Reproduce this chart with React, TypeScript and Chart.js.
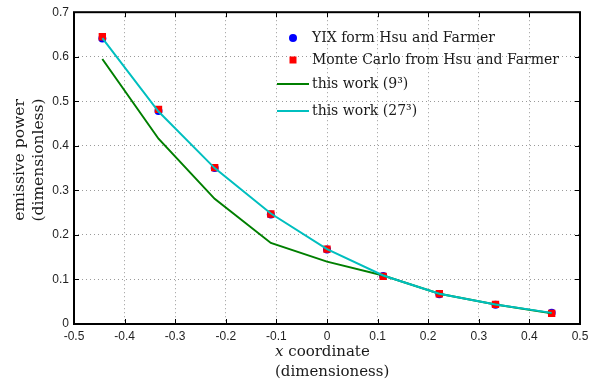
import { useEffect, useRef } from 'react';
import Chart from 'chart.js/auto';

// Cell-centre positions along x (9 cells across [-0.5, 0.5])
const xCoords = [-0.444, -0.333, -0.222, -0.111, 0, 0.111, 0.222, 0.333, 0.444];

// Emissive power along the centre line
const yixValues = [0.641, 0.478, 0.35, 0.246, 0.167, 0.108, 0.067, 0.043, 0.025];
const monteCarloValues = [0.645, 0.482, 0.351, 0.247, 0.168, 0.107, 0.068, 0.044, 0.024];
const coarseValues = [0.595, 0.416, 0.281, 0.182, 0.14, 0.109, 0.068, 0.044, 0.024];
const fineValues = [0.642, 0.477, 0.35, 0.248, 0.168, 0.109, 0.068, 0.044, 0.025];

const seriesLabels = [
  'YIX form Hsu and Farmer',
  'Monte Carlo from Hsu and Farmer',
  'this work (9\u00b3)',
  'this work (27\u00b3)',
];

const xTitle = ['coordinate', '(dimensioness)'];
const yTitle = ['emissive power', '(dimensionless)'];

const X_MIN = -0.5;
const X_MAX = 0.5;
const Y_MIN = 0;
const Y_MAX = 0.7;
const STEP = 0.1;

const SERIF = '"DejaVu Serif", "Liberation Serif", serif';
const SANS = '"Liberation Sans", Arial, sans-serif';

const toPoints = (vals: number[]) => vals.map((v, i) => ({ x: xCoords[i], y: v }));
const fmt = (v: number) => String(Math.round(v * 10) / 10);

const decorPlugin = {
  id: 'decor',
  afterDatasetsDraw(chart: any) {
    const { ctx, chartArea: a, scales } = chart;
    const xs = scales.x;
    const ys = scales.y;
    ctx.save();
    ctx.strokeStyle = '#000';
    ctx.lineWidth = 1;
    ctx.beginPath();
    xs.ticks.forEach((t: any) => {
      const px = Math.round(xs.getPixelForValue(t.value)) + 0.5;
      ctx.moveTo(px, a.bottom);
      ctx.lineTo(px, a.bottom - 5);
      ctx.moveTo(px, a.top);
      ctx.lineTo(px, a.top + 5);
    });
    ys.ticks.forEach((t: any) => {
      const py = Math.round(ys.getPixelForValue(t.value)) + 0.5;
      ctx.moveTo(a.left, py);
      ctx.lineTo(a.left + 5, py);
      ctx.moveTo(a.right, py);
      ctx.lineTo(a.right - 5, py);
    });
    ctx.stroke();
    ctx.lineWidth = 2;
    ctx.strokeRect(a.left, a.top, a.right - a.left, a.bottom - a.top);
    ctx.restore();
  },
  afterDraw(chart: any) {
    const { ctx, chartArea: a } = chart;
    const ds = chart.data.datasets;
    ctx.save();

    // legend inside the plot, no box
    const rows = [38, 60, 84, 111];
    const sampleX = 293;
    const textX = 312;
    ctx.font = `14px ${SERIF}`;
    ctx.textBaseline = 'middle';
    ctx.textAlign = 'left';
    ds.forEach((d: any, i: number) => {
      const y = rows[i];
      if (d.showLine === false) {
        ctx.fillStyle = d.backgroundColor;
        if (d.pointStyle === 'rect') {
          ctx.fillRect(sampleX - 3.5, y - 3.5, 7, 7);
        } else {
          ctx.beginPath();
          ctx.arc(sampleX, y, 4, 0, Math.PI * 2);
          ctx.fill();
        }
      } else {
        ctx.strokeStyle = d.borderColor;
        ctx.lineWidth = 2;
        ctx.beginPath();
        ctx.moveTo(277, y);
        ctx.lineTo(309, y);
        ctx.stroke();
      }
      ctx.fillStyle = '#1a1a1a';
      ctx.fillText(d.label, textX, y);
    });

    // x title: italic x followed by upright text, two lines
    ctx.fillStyle = '#1a1a1a';
    ctx.textAlign = 'left';
    const tx = 275;
    ctx.font = `italic 15px ${SERIF}`;
    const wx = ctx.measureText('x ').width;
    ctx.fillText('x ', tx, 352);
    ctx.font = `15px ${SERIF}`;
    ctx.fillText(xTitle[0], tx + wx, 352);
    ctx.fillText(xTitle[1], tx, 372);

    // y title, rotated
    ctx.font = `15.5px ${SERIF}`;
    ctx.translate(0, 160);
    ctx.rotate(-Math.PI / 2);
    ctx.textAlign = 'center';
    ctx.fillText(yTitle[0], 0, 20);
    ctx.fillText(yTitle[1], 0, 39);
    ctx.restore();
  },
};

export default function App() {
  const ref = useRef<HTMLCanvasElement | null>(null);

  useEffect(() => {
    document.body.style.margin = '0';
    const canvas = ref.current;
    if (!canvas) return;
    const chart = new Chart(canvas, {
      type: 'line',
      data: {
        datasets: [
          {
            label: seriesLabels[0],
            data: toPoints(yixValues),
            showLine: false,
            pointStyle: 'circle',
            pointRadius: 4,
            backgroundColor: '#0000ff',
            borderColor: '#0000ff',
            borderWidth: 0,
            order: 3,
          },
          {
            label: seriesLabels[1],
            data: toPoints(monteCarloValues),
            showLine: false,
            pointStyle: 'rect',
            pointRadius: 5.2,
            backgroundColor: '#ff0000',
            borderColor: '#ff0000',
            borderWidth: 0,
            order: 2,
          },
          {
            label: seriesLabels[2],
            data: toPoints(coarseValues),
            borderColor: '#007f00',
            backgroundColor: '#007f00',
            borderWidth: 2,
            pointRadius: 0,
            tension: 0,
            order: 1,
          },
          {
            label: seriesLabels[3],
            data: toPoints(fineValues),
            borderColor: '#00bfbf',
            backgroundColor: '#00bfbf',
            borderWidth: 2,
            pointRadius: 0,
            tension: 0,
            order: 0,
          },
        ] as any,
      },
      options: {
        animation: false,
        responsive: false,
        devicePixelRatio: 1,
        layout: { padding: { top: 9, right: 32, left: 0, bottom: 0 } },
        plugins: {
          legend: { display: false },
          tooltip: { enabled: false },
          title: { display: false },
        },
        scales: {
          x: {
            type: 'linear',
            min: X_MIN,
            max: X_MAX,
            afterFit: (s: any) => {
              s.height = 61;
            },
            ticks: {
              stepSize: STEP,
              autoSkip: false,
              maxRotation: 0,
              padding: 5,
              color: '#1f1f1f',
              font: { family: SANS, size: 12 },
              callback: (v: any) => fmt(Number(v)),
            },
            grid: { color: '#9a9a9a', lineWidth: 1, drawTicks: false },
            border: { display: false, dash: [1, 3] },
          },
          y: {
            type: 'linear',
            min: Y_MIN,
            max: Y_MAX,
            afterFit: (s: any) => {
              s.width = 74;
            },
            ticks: {
              stepSize: STEP,
              autoSkip: false,
              padding: 5,
              color: '#1f1f1f',
              font: { family: SANS, size: 12 },
              callback: (v: any) => fmt(Number(v)),
            },
            grid: { color: '#9a9a9a', lineWidth: 1, drawTicks: false },
            border: { display: false, dash: [1, 3] },
          },
        },
      } as any,
      plugins: [decorPlugin],
    });
    return () => chart.destroy();
  }, []);

  return <canvas ref={ref} width={612} height={385} style={{ display: 'block' }} />;
}
